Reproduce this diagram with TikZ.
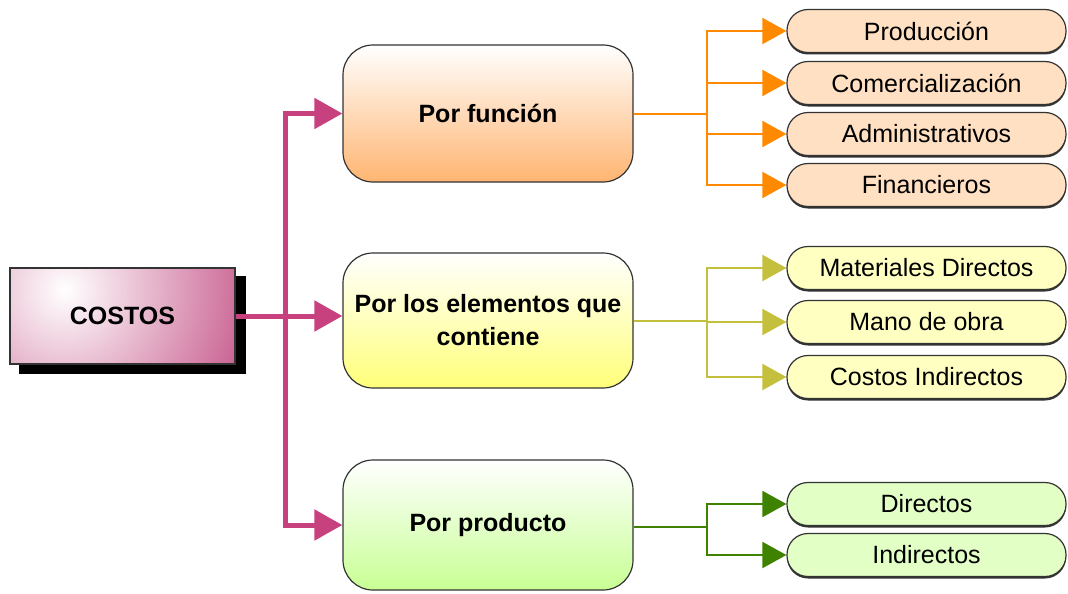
\documentclass[tikz,border=0pt]{standalone}
\usepackage{fontspec}
\setmainfont{Liberation Sans}
\usetikzlibrary{shapes, arrows, calc, arrows.meta, fit, positioning, shadows, backgrounds}

\definecolor{magline}{HTML}{C8417F}
\definecolor{magdark}{HTML}{BC3A76}
\definecolor{orline}{HTML}{FF8A00}
\definecolor{orfill}{HTML}{FFB572}
\definecolor{orlight}{HTML}{FFE0C2}
\definecolor{yeline}{HTML}{C4BF3C}
\definecolor{yefill}{HTML}{FFFF7A}
\definecolor{yelight}{HTML}{FFFFC2}
\definecolor{grline}{HTML}{3E8200}
\definecolor{grfill}{HTML}{C8FF94}
\definecolor{grlight}{HTML}{E2FFC6}

\begin{document}
\begin{tikzpicture}[x=1pt, y=-1pt,
  rootbox/.style = {draw=black!80, line width=1.2pt, minimum width=225pt, minimum height=96pt, inner sep=0pt,
    font=\bfseries\fontsize{25}{30}\selectfont,
    path picture={\shade[inner color=white, outer color=magdark] ([xshift=55pt,yshift=-22pt]path picture bounding box.north west) circle (235pt);}},
  mainbox/.style = {draw=black!80, line width=1.2pt, rounded corners=30pt, minimum width=290pt, inner sep=2pt,
    align=center, font=\bfseries\fontsize{25}{33}\selectfont, top color=white},
  leafbox/.style = {draw=black!80, line width=1.2pt, rounded corners=21pt, minimum width=279pt, minimum height=43pt,
    inner sep=0pt, font=\fontsize{25}{30}\selectfont,
    drop shadow={shadow xshift=0pt, shadow yshift=-2pt, fill=black!80, opacity=1}},
  maglink/.style = {draw=magline, line width=5pt, -{Triangle[length=28pt, width=30pt]}},
  sublink/.style = {draw=#1, line width=2pt, -{Triangle[length=24pt, width=26pt]}}
]
\useasboundingbox (0,0) rectangle (1068,594);

\node[rootbox] (costos) at (122.5,316) {COSTOS};
\node[mainbox, minimum height=137pt, bottom color=orfill] (func) at (488,113.5) {Por función};
\node[mainbox, minimum height=135pt, bottom color=yefill] (elem) at (488,320.5) {Por los elementos que\\contiene};
\node[mainbox, minimum height=130pt, bottom color=grfill] (prod) at (488,525) {Por producto};

\node[leafbox, fill=orlight] (f1) at (926.5,31) {Producción};
\node[leafbox, fill=orlight] (f2) at (926.5,83) {Comercialización};
\node[leafbox, fill=orlight] (f3) at (926.5,134) {Administrativos};
\node[leafbox, fill=orlight] (f4) at (926.5,185) {Financieros};

\node[leafbox, fill=yelight] (e1) at (926.5,268) {Materiales Directos};
\node[leafbox, fill=yelight] (e2) at (926.5,322) {Mano de obra};
\node[leafbox, fill=yelight] (e3) at (926.5,377) {Costos Indirectos};

\node[leafbox, fill=grlight] (p1) at (926.5,504) {Directos};
\node[leafbox, fill=grlight] (p2) at (926.5,555) {Indirectos};

\begin{pgfonlayer}{background}
\fill[black] ([shift={(10pt,-9pt)}]costos.south west) rectangle ([shift={(10pt,-9pt)}]costos.north east);
\end{pgfonlayer}

% tronco principal
\coordinate (mj) at (285,316);
\draw[maglink] (costos.east) -- (costos.east -| elem.west);
\draw[maglink] (mj) |- (func.west);
\draw[maglink] (mj) |- (prod.west);

% ramas
\coordinate (fj) at (707,113.5);
\draw[orline, line width=2pt] (func.east) -- (fj);
\draw[sublink=orline] (fj) |- (f1.west);
\draw[sublink=orline] (fj) |- (f2.west);
\draw[sublink=orline] (fj) |- (f3.west);
\draw[sublink=orline] (fj) |- (f4.west);

\coordinate (ej) at (707,320.5);
\draw[yeline, line width=2pt] (elem.east) -- (ej);
\draw[sublink=yeline] (ej) |- (e1.west);
\draw[sublink=yeline] (ej) |- (e2.west);
\draw[sublink=yeline] (ej) |- (e3.west);

\coordinate (pj) at (707,527);
\draw[grline, line width=2pt] (prod.east |- pj) -- (pj);
\draw[sublink=grline] (pj) |- (p1.west);
\draw[sublink=grline] (pj) |- (p2.west);
\end{tikzpicture}
\end{document}
